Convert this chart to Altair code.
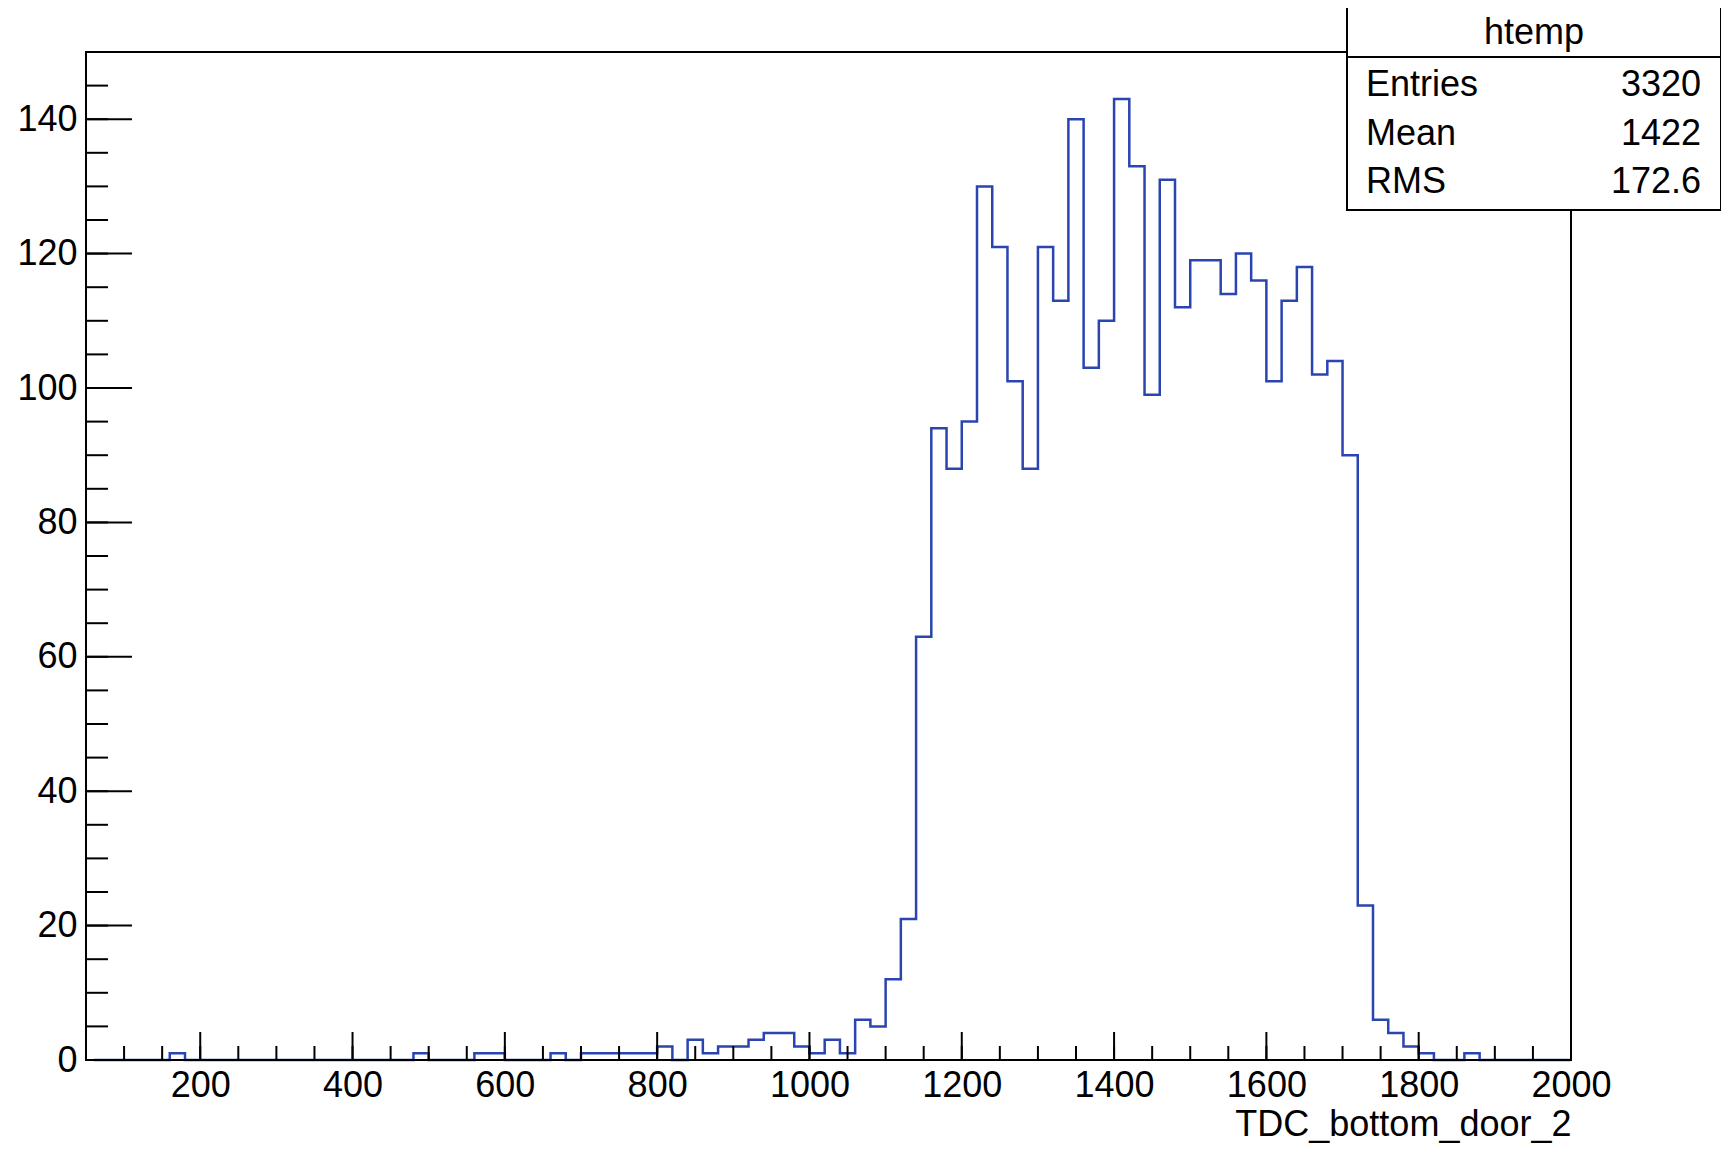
import altair as alt
import pandas as pd

# bin lower edges (width 20) and counts
bin_start = list(range(60, 2000, 20))
counts = {
    160: 1, 480: 1, 560: 1, 580: 1, 660: 1, 700: 1, 720: 1, 740: 1, 760: 1,
    780: 1, 800: 2, 840: 3, 860: 1, 880: 2, 900: 2, 920: 3, 940: 4, 960: 4,
    980: 2, 1000: 1, 1020: 3, 1040: 1, 1060: 6, 1080: 5, 1100: 12, 1120: 21,
    1140: 63, 1160: 94, 1180: 88, 1200: 95, 1220: 130, 1240: 121, 1260: 101,
    1280: 88, 1300: 121, 1320: 113, 1340: 140, 1360: 103, 1380: 110,
    1400: 143, 1420: 133, 1440: 99, 1460: 131, 1480: 112, 1500: 119,
    1520: 119, 1540: 114, 1560: 120, 1580: 116, 1600: 101, 1620: 113,
    1640: 118, 1660: 102, 1680: 104, 1700: 90, 1720: 23, 1740: 6, 1760: 4,
    1780: 2, 1800: 1, 1860: 1,
}
x_major = list(range(200, 2001, 200))
x_minor = list(range(100, 2001, 50))
y_major = list(range(0, 141, 20))
y_minor = list(range(0, 146, 5))
stat_names = ["Entries", "Mean", "RMS"]
stat_values = ["3320", "1422", "172.6"]

W, H = 1485, 1008
FONT = "Liberation Sans"
BLUE = "#2a44b0"
FS = 36

xs = alt.Scale(domain=[50, 2000], nice=False, zero=False)
ys = alt.Scale(domain=[0, 150], nice=False)
xaxis = alt.Axis(values=x_major, format="d", labelFontSize=FS, labelFont=FONT,
                 labelColor="black", ticks=False, domain=False, grid=False, labelPadding=8,
                 labelFlush=False, labelOverlap=False,
                 title="TDC_bottom_door_2", titleFont=FONT, titleFontSize=FS,
                 titleFontWeight="normal", titleColor="black", titleAnchor="end", titlePadding=4)
yaxis = alt.Axis(values=y_major, labelFontSize=FS, labelFont=FONT, labelColor="black",
                 ticks=False, domain=False, grid=False, labelPadding=9, labelFlush=False,
                 title=None)

edges = bin_start + [2000]
vals = [counts.get(b, 0) for b in bin_start] + [0]
hist = pd.DataFrame({"x": edges, "y": vals})

line = alt.Chart(hist).mark_line(interpolate="step-after", color=BLUE, strokeWidth=2.5).encode(
    x=alt.X("x:Q", scale=xs, axis=xaxis),
    y=alt.Y("y:Q", scale=ys, axis=yaxis),
)

def xticks(vals, length):
    return alt.Chart(pd.DataFrame({"v": vals})).mark_rule(color="black", strokeWidth=2).encode(
        x=alt.X("v:Q", scale=xs, axis=xaxis), y=alt.value(H), y2=alt.value(H - length))

def yticks(vals, length):
    return alt.Chart(pd.DataFrame({"v": vals})).mark_rule(color="black", strokeWidth=2).encode(
        y=alt.Y("v:Q", scale=ys, axis=yaxis), x=alt.value(0), x2=alt.value(length))

frame = alt.Chart(pd.DataFrame({"a": [0]})).mark_rect(fill=None, stroke="black", strokeWidth=2).encode(
    x=alt.value(0), x2=alt.value(W), y=alt.value(0), y2=alt.value(H))

box = alt.Chart(pd.DataFrame({"a": [0]})).mark_rect(fill="white", stroke="black", strokeWidth=2).encode(
    x=alt.value(1261), x2=alt.value(1635), y=alt.value(-46), y2=alt.value(158))
sep = alt.Chart(pd.DataFrame({"a": [0]})).mark_rule(color="black", strokeWidth=2).encode(
    x=alt.value(1261), x2=alt.value(1635), y=alt.value(5))
box_title = alt.Chart(pd.DataFrame({"t": ["htemp"]})).mark_text(
    font=FONT, fontSize=FS, baseline="middle").encode(
    text="t:N", x=alt.value(1448), y=alt.value(-19))

rows = []
for i, (n, v) in enumerate(zip(stat_names, stat_values)):
    ypos = 33 + 48.5 * i
    rows.append(alt.Chart(pd.DataFrame({"t": [n]})).mark_text(
        font=FONT, fontSize=FS, align="left", baseline="middle").encode(
        text="t:N", x=alt.value(1280), y=alt.value(ypos)))
    rows.append(alt.Chart(pd.DataFrame({"t": [v]})).mark_text(
        font=FONT, fontSize=FS, align="right", baseline="middle").encode(
        text="t:N", x=alt.value(1615), y=alt.value(ypos)))

chart = alt.layer(
    line, xticks(x_minor, 14), xticks(x_major, 28), yticks(y_minor, 22), yticks(y_major, 46),
    frame, box, sep, box_title, *rows
).properties(
    width=W, height=H, autosize=alt.AutoSizeParams(type="none"),
    padding={"left": 78, "top": 44, "right": 150, "bottom": 84}
).configure_view(stroke=None).configure(background="white")

chart.save("out.html", embed_options={"renderer": "svg", "actions": False})
